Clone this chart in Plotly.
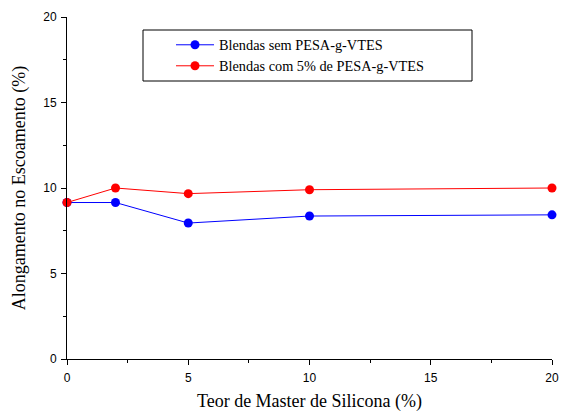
import plotly.graph_objects as go

x_vals = [0, 2, 5, 10, 20]
sem_pesa = [9.15, 9.15, 7.95, 8.36, 8.43]
com_pesa = [9.15, 10.0, 9.67, 9.9, 10.0]
series_names = ["Blendas sem PESA-g-VTES", "Blendas com 5% de PESA-g-VTES"]

L, R, T, B = 67, 9, 17, 53
W, H = 561, 412
PW, PH = W - L - R, H - T - B


def px_x(p):
    return (p - L) / PW


def px_y(p):
    return (H - B - p) / PH


fig = go.Figure()
fig.add_trace(go.Scatter(x=x_vals, y=sem_pesa, mode="lines+markers", name=series_names[0],
                         line=dict(color="#0000ff", width=1), marker=dict(color="#0000ff", size=9),
                         legend="legend"))
fig.add_trace(go.Scatter(x=x_vals, y=com_pesa, mode="lines+markers", name=series_names[1],
                         line=dict(color="#ff0000", width=1), marker=dict(color="#ff0000", size=9),
                         legend="legend2"))

axis_common = dict(showline=True, linecolor="black", linewidth=1, showgrid=False, zeroline=False,
                   ticks="outside", ticklen=5, tickcolor="black", tickwidth=1,
                   tickfont=dict(family="Liberation Sans, Arial", size=12, color="black"),
                   dtick=5, tick0=0,
                   minor=dict(dtick=2.5, tick0=0, ticks="outside", ticklen=3, tickcolor="black", showgrid=False))

fig.update_xaxes(range=[0, 20], ticklabelstandoff=3,
                 title=dict(text="Teor de Master de Silicona (%)", standoff=13,
                            font=dict(family="Liberation Serif, Times New Roman", size=18, color="black")),
                 **axis_common)
fig.update_yaxes(range=[0, 20], ticklabelstandoff=2,
                 title=dict(text="Alongamento no Escoamento (%)", standoff=12,
                            font=dict(family="Liberation Serif, Times New Roman", size=18, color="black")),
                 **axis_common)

leg_font = dict(family="Liberation Serif, Times New Roman", size=14.3, color="black")
leg_common = dict(xanchor="left", yanchor="middle", borderwidth=0, bgcolor="rgba(0,0,0,0)",
                  font=leg_font, itemwidth=38)

fig.update_layout(
    width=W, height=H,
    margin=dict(l=L, r=R, t=T, b=B, autoexpand=False),
    paper_bgcolor="white", plot_bgcolor="white",
    legend=dict(x=px_x(171), y=px_y(45), **leg_common),
    legend2=dict(x=px_x(171), y=px_y(66), **leg_common),
    showlegend=True,
    shapes=[dict(type="rect", xref="paper", yref="paper",
                 x0=px_x(143), x1=px_x(472), y0=px_y(81), y1=px_y(30),
                 line=dict(color="black", width=1), fillcolor="white", layer="below")],
)
fig.update_traces(cliponaxis=False)

fig.write_html("out.html", config={"displayModeBar": False},
               post_script="document.body.style.margin='0';")
